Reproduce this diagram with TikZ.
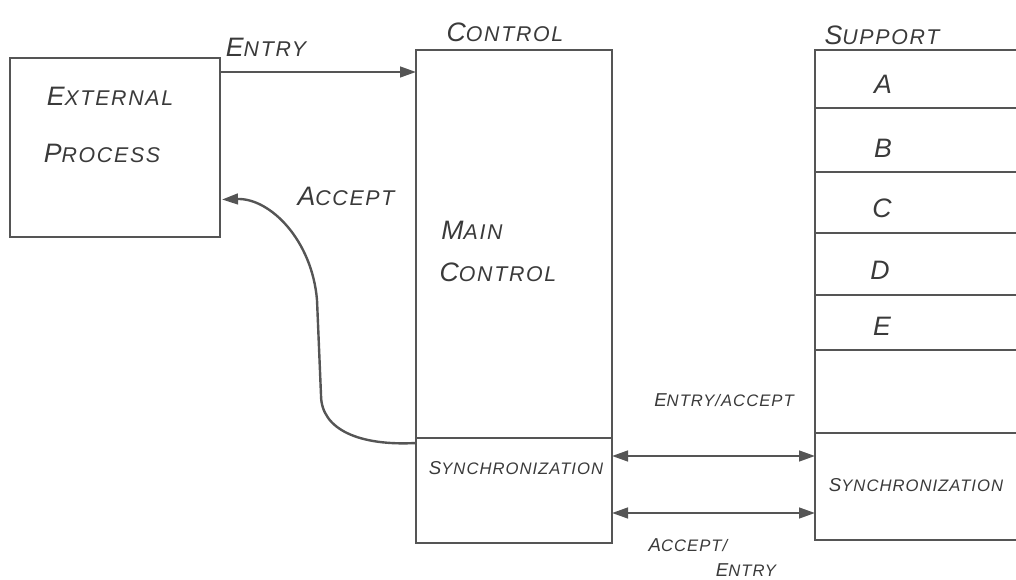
\documentclass[tikz,border=0pt]{standalone}
\usepackage{fontspec}
\setmainfont{Liberation Sans}
\usetikzlibrary{calc,arrows.meta}
\definecolor{ink}{HTML}{555555}
\definecolor{txt}{HTML}{3A3A3A}
\newcommand{\hw}[2]{{\addfontfeature{LetterSpace=8}{\fontsize{20}{20}\selectfont #1}{\fontsize{16}{16}\selectfont #2}}}
\newcommand{\hs}[2]{{\addfontfeature{LetterSpace=6}{\fontsize{14}{14}\selectfont #1}{\fontsize{12.5}{12.5}\selectfont #2}}}
\begin{document}
\begin{tikzpicture}[x=0.75pt,y=-0.75pt,
  pbox/.style={draw=ink, line width=1.8pt, inner sep=0pt, outer sep=0pt},
  lbl/.style={text=txt, inner sep=0pt, font=\itshape},
  arr/.style={draw=ink, line width=1.8pt, -{Triangle[length=12pt,width=8pt]}},
  darr/.style={draw=ink, line width=1.8pt, {Triangle[length=12pt,width=8pt]}-{Triangle[length=12pt,width=8pt]}}]
\useasboundingbox (0,0) rectangle (1016,580);
\clip (0,0) rectangle (1016,580);
% boxes
\node[pbox, minimum width={210*0.75pt}, minimum height={179*0.75pt}] (ext) at (115,147.5) {};
\node[pbox, minimum width={196*0.75pt}, minimum height={388*0.75pt}] (cmain) at (514,244) {};
\node[pbox, minimum width={196*0.75pt}, minimum height={105*0.75pt}] (csync) at (514,490.5) {};
\node[pbox, minimum width={225*0.75pt}, minimum height={58*0.75pt}] (sA) at (927.5,79) {};
\node[pbox, minimum width={225*0.75pt}, minimum height={64*0.75pt}] (sB) at (927.5,140) {};
\node[pbox, minimum width={225*0.75pt}, minimum height={61*0.75pt}] (sC) at (927.5,202.5) {};
\node[pbox, minimum width={225*0.75pt}, minimum height={62*0.75pt}] (sD) at (927.5,264) {};
\node[pbox, minimum width={225*0.75pt}, minimum height={55*0.75pt}] (sE) at (927.5,322.5) {};
\node[pbox, minimum width={225*0.75pt}, minimum height={83*0.75pt}] (sF) at (927.5,391.5) {};
\node[pbox, minimum width={225*0.75pt}, minimum height={107*0.75pt}] (ssync) at (927.5,486.5) {};
% texts
\node[lbl] (t1) at (110,96) {\hw{E}{XTERNAL}};
\node[lbl] (t2) at (102,153) {\hw{P}{ROCESS}};
\node[lbl] (t3) at (505,32) {\hw{C}{ONTROL}};
\node[lbl] (t4) at (882,35) {\hw{S}{UPPORT}};
\node[lbl] (t5) at (472,230) {\hw{M}{AIN}};
\node[lbl] (t6) at (498,272) {\hw{C}{ONTROL}};
\node[lbl] (t7) at (266,47) {\hw{E}{NTRY}};
\node[lbl] (t8) at (346,196) {\hw{A}{CCEPT}};
\node[lbl, font=\itshape\fontsize{20}{20}\selectfont] (la) at (883,84) {A};
\node[lbl, font=\itshape\fontsize{20}{20}\selectfont] (lb) at (883,148) {B};
\node[lbl, font=\itshape\fontsize{20}{20}\selectfont] (lc) at (882,208) {C};
\node[lbl, font=\itshape\fontsize{20}{20}\selectfont] (ld) at (880,270) {D};
\node[lbl, font=\itshape\fontsize{20}{20}\selectfont] (le) at (882,326) {E};
\node[lbl] (t9) at (516,468) {\hs{S}{YNCHRONIZATION}};
\node[lbl] (t10) at (916,485) {\hs{S}{YNCHRONIZATION}};
\node[lbl] (t11) at (724,400) {\hs{E}{NTRY/ACCEPT}};
\node[lbl] (t12) at (688,545) {\hs{A}{CCEPT/}};
\node[lbl] (t13) at (746,570) {\hs{E}{NTRY}};
% connectors
\draw[arr] ($(ext.north east)+(0,14)$) -- ($(cmain.north west)+(0,22)$);
\draw[arr] ($(csync.north west)+(0,5)$) .. controls (360,446) and (321,430) .. (321,395)
  -- (317,300) .. controls (312,240) and (270,198) .. ($(ext.east)+(2,52)$);
\draw[darr] ($(csync.north east)+(0,18)$) -- ($(ssync.north west)+(0,23)$);
\draw[darr] ($(csync.north east)+(0,75)$) -- ($(ssync.north west)+(0,80)$);
\end{tikzpicture}
\end{document}
